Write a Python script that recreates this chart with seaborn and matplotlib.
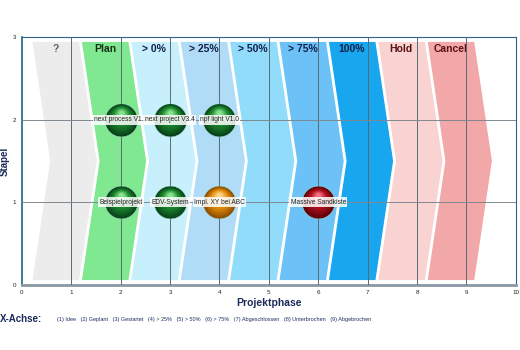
import numpy as np
import pandas as pd
import seaborn as sns
import matplotlib.pyplot as plt
from matplotlib.patches import Polygon
from matplotlib.colors import to_rgb
from matplotlib.transforms import ScaledTranslation

# phases (x axis)
phase_pos = [1, 2, 3, 4, 5, 6, 7, 8, 9]
phase_names = ["?", "Plan", "> 0%", "> 25%", "> 50%", "> 75%", "100%", "Hold", "Cancel"]
phase_colors = ["#ececec", "#80e890", "#c8effc", "#b0dcf8", "#90dcfa",
                "#6cc2f6", "#18a6ee", "#f9d2d2", "#f2a8a8"]
title_colors = ["#606060", "#183018", "#14204a", "#14204a", "#14204a",
                "#14204a", "#14204a", "#5a1010", "#5a1010"]

# projects
projects = ["next process V1.2", "next project V3.4", "npf light V1.0",
            "Beispielprojekt", "EDV-System", "Impl. XY bei ABC", "Massive Sandkiste"]
proj_phase = [2, 3, 4, 2, 3, 4, 6]
proj_stack = [2, 2, 2, 1, 1, 1, 1]
proj_status = ["green", "green", "green", "green", "green", "orange", "red"]

legend_text = ("(1) Idee   (2) Geplant   (3) Gestartet   (4) > 25%   (5) > 50%   "
               "(6) > 75%   (7) Abgeschlossen   (8) Unterbrochen   (9) Abgebrochen")

sphere = {"green": ("#08401a", "#1e8c30", "#9af0a0"),
          "orange": ("#8a4a00", "#e8900c", "#ffe0a0"),
          "red": ("#5a0008", "#b41020", "#ff8090")}

df = pd.DataFrame({"project": projects, "phase": proj_phase,
                   "stack": proj_stack, "status": proj_status})

sns.set_style("white")
plt.rcParams["font.family"] = ["Liberation Sans", "DejaVu Sans"]

fig = plt.figure(figsize=(5.2, 3.5), dpi=100)
ax = fig.add_axes([0.042, 0.186, 0.950, 0.708])

# chevrons
for k, c in zip(phase_pos, phase_colors):
    pts = [(k - 0.8, 0.05), (k + 0.17, 0.05), (k + 0.53, 1.5),
           (k + 0.17, 2.95), (k - 0.8, 2.95), (k - 0.44, 1.5)]
    ax.add_patch(Polygon(pts, closed=True, facecolor=c, edgecolor="white",
                         lw=1.0, zorder=1))
for k, name, tc in zip(phase_pos, phase_names, title_colors):
    ax.text(k - 0.32, 2.86, name, ha="center", va="center", fontsize=7.5,
            fontweight="bold", color=tc, zorder=2)

# grid
for k in range(1, 10):
    ax.axvline(k, color="#5a6a72", lw=0.7, zorder=3)
for y in [1, 2]:
    ax.axhline(y, color="#808890", lw=0.7, zorder=3)

# spheres: layered gradient
base_s = 560
n = 14
for status, (dark, mid, light) in sphere.items():
    sub = df[df["status"] == status]
    if sub.empty:
        continue
    sns.scatterplot(data=sub, x="phase", y="stack", s=base_s, color=dark,
                    edgecolor="#9ad8c8", linewidth=0.4, ax=ax, zorder=4, legend=False)
    for i in range(1, n):
        t = i / n
        if t < 0.5:
            col = np.array(to_rgb(dark)) * (1 - 2 * t) + np.array(to_rgb(mid)) * 2 * t
        else:
            col = np.array(to_rgb(mid)) * (2 - 2 * t) + np.array(to_rgb(light)) * (2 * t - 1)
        size = base_s * (1 - 0.92 * t) ** 2
        off = ScaledTranslation(0, 5.5 * t / 72, fig.dpi_scale_trans)
        sns.scatterplot(data=sub, x="phase", y="stack", s=size, color=col,
                        linewidth=0, ax=ax, zorder=4, legend=False,
                        transform=ax.transData + off)

for _, r in df.iterrows():
    ax.text(r["phase"], r["stack"], r["project"], ha="center", va="center",
            fontsize=4.8, color="#222222", zorder=6,
            bbox=dict(boxstyle="square,pad=0.2", fc="white", ec="none", alpha=0.85))

ax.set_xlim(0, 10)
ax.set_ylim(0, 3)
ax.set_xticks(range(0, 11))
ax.set_yticks(range(0, 4))
ax.tick_params(axis="both", labelsize=4.5, length=2, width=0.6, pad=2, colors="#222222")
ax.set_xlabel("Projektphase", fontsize=7.5, fontweight="bold", color="#1a2a5a", labelpad=2)
ax.set_ylabel("Stapel", fontsize=7, fontweight="bold", color="#1a2a5a")
ax.yaxis.set_label_coords(-0.024, 0.5)

for side in ["top", "right"]:
    ax.spines[side].set_color("#2e6288")
    ax.spines[side].set_linewidth(0.8)
ax.spines["left"].set_color("#1a6a80")
ax.spines["left"].set_linewidth(1.2)
ax.spines["bottom"].set_color("#8a98a6")
ax.spines["bottom"].set_linewidth(2)

fig.text(0.0, 0.088, "X-Achse:", fontsize=7, fontweight="bold", color="#1a2a5a", va="center")
fig.text(0.11, 0.088, legend_text, fontsize=4.0, color="#203060", va="center")

fig.savefig("out.png", dpi=100)
